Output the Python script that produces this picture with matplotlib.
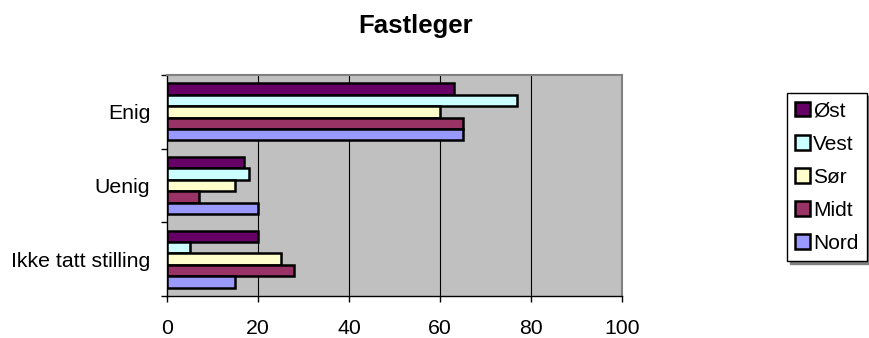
import matplotlib
matplotlib.use("Agg")
import matplotlib.pyplot as plt
import numpy as np

plt.rcParams['font.family'] = ['Liberation Sans', 'DejaVu Sans']

categories = ['Enig', 'Uenig', 'Ikke tatt stilling']
series_names = ['Øst', 'Vest', 'Sør', 'Midt', 'Nord']
ost = [63, 17, 20]
vest = [77, 18, 5]
sor = [60, 15, 25]
midt = [65, 7, 28]
nord = [65, 20, 15]
series_values = [ost, vest, sor, midt, nord]
colors = ['#660066', '#CCFFFF', '#FFFFCC', '#993366', '#9999FF']
x_ticks = [0, 20, 40, 60, 80, 100]

fig = plt.figure(figsize=(8.69, 3.38), dpi=100)
ax = fig.add_axes([167 / 869, 1 - 296 / 338, (622 - 167) / 869, (296 - 75) / 338])
ax.set_facecolor('#C0C0C0')

n_cat = len(categories)
ypos = np.arange(n_cat)[::-1]          # first category at the top
bar_h = 0.155
n_ser = len(series_names)
handles = []
for i, (name, vals, col) in enumerate(zip(series_names, series_values, colors)):
    offset = ((n_ser - 1) / 2 - i) * bar_h
    b = ax.barh(ypos + offset, vals, height=bar_h, color=col,
                edgecolor='black', linewidth=1.8, label=name, zorder=3)
    handles.append(b)

ax.set_xlim(0, 100)
ax.set_ylim(-0.5, n_cat - 0.5)
ax.set_xticks(x_ticks)
ax.set_xticklabels([str(t) for t in x_ticks], fontsize=15.3)
ax.tick_params(axis='x', direction='out', length=4, width=1, pad=12.5, colors='black')

# category boundaries as major ticks, labels at centres as minor ticks
ax.set_yticks(np.arange(-0.5, n_cat, 1.0))
ax.set_yticklabels([])
ax.set_yticks(ypos, minor=True)
ax.set_yticklabels(categories, minor=True, fontsize=15.3)
ax.tick_params(axis='y', which='major', direction='out', length=4.3, width=1)
ax.tick_params(axis='y', which='minor', length=0, pad=12)

for g in x_ticks[1:-1]:
    ax.axvline(g, color='black', linewidth=0.8, zorder=1)

for s in ['left', 'bottom']:
    ax.spines[s].set_color('black')
    ax.spines[s].set_linewidth(1.0)
for s in ['top', 'right']:
    ax.spines[s].set_color('#808080')
    ax.spines[s].set_linewidth(1.5)

fig.text(416 / 869, 1 - 33 / 338, 'Fastleger', fontsize=18.5, fontweight='bold',
         ha='center', va='baseline')

leg = fig.legend(handles=handles, labels=series_names, loc='upper left',
                 bbox_to_anchor=(787 / 869, 1 - 93 / 338), borderaxespad=0,
                 fontsize=15, handlelength=0.7, handleheight=0.7,
                 handletextpad=0.15, labelspacing=0.68, borderpad=0.4,
                 fancybox=False, frameon=True, edgecolor='black',
                 shadow={'color': '#808080', 'alpha': 1.0})
leg.get_frame().set_linewidth(1.0)
for h in leg.legend_handles:
    h.set_linewidth(1.8)

fig.savefig('out.png', dpi=100, facecolor='white')
